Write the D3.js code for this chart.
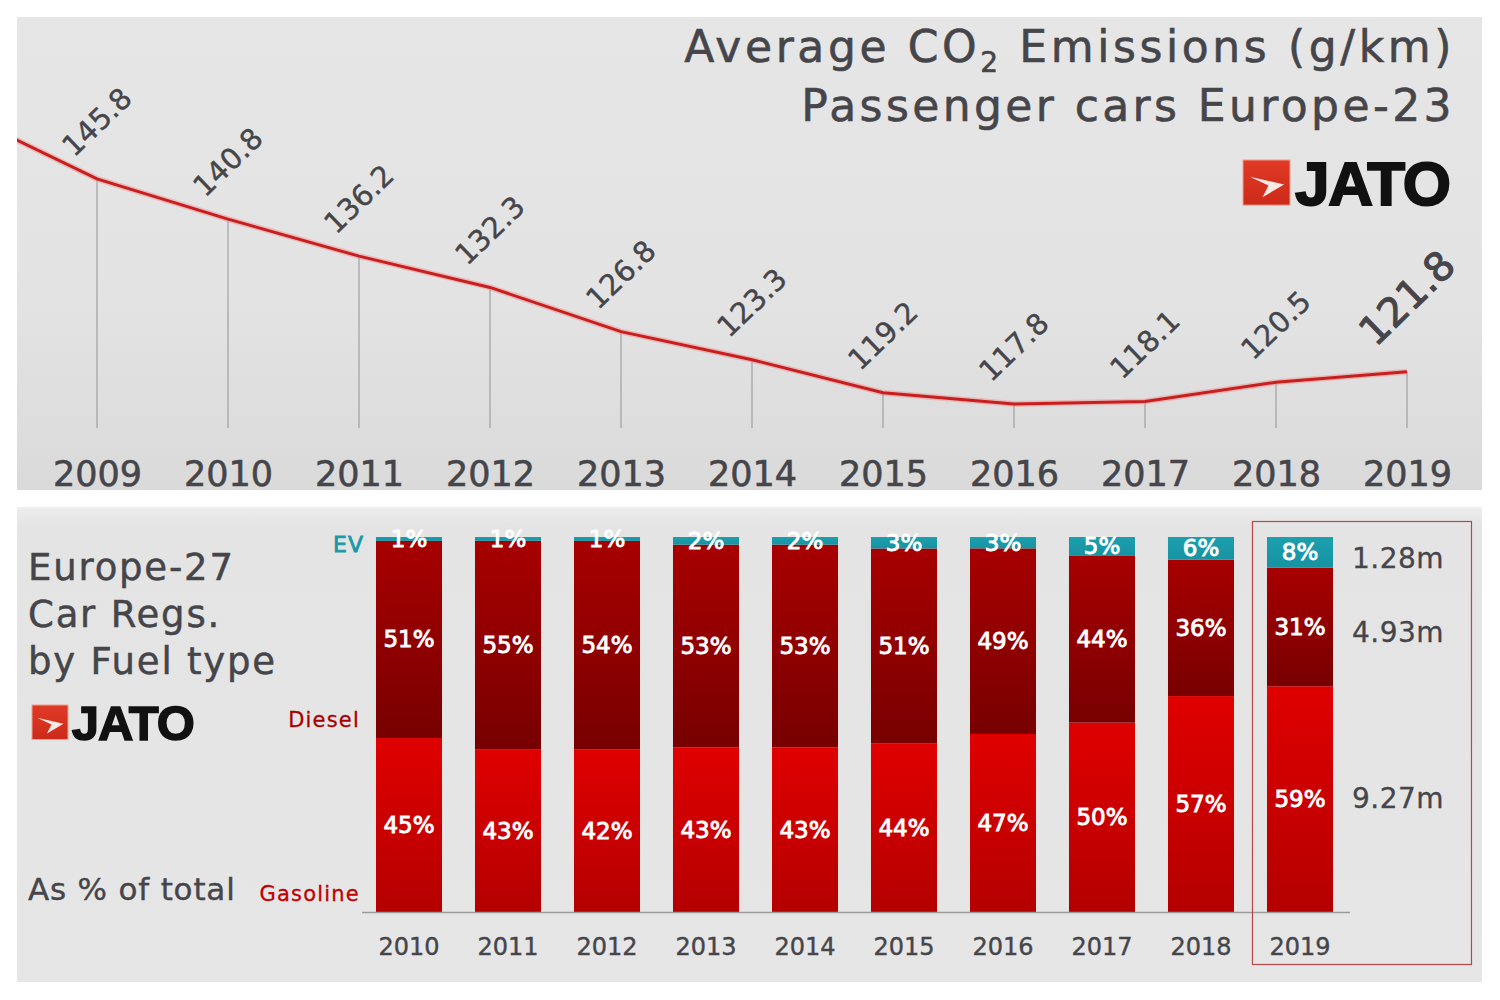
<!DOCTYPE html>
<html>
<head>
<meta charset="utf-8">
<script src="https://cdn.jsdelivr.net/npm/d3@7"></script>
<style>
  html, body { margin: 0; padding: 0; background: #ffffff; }
  svg { display: block; font-family: "DejaVu Sans", sans-serif; }
</style>
</head>
<body>
<svg id="chart" width="1500" height="1000"></svg>
<script>
// ---------- DATA ----------
const co2Years = [2009, 2010, 2011, 2012, 2013, 2014, 2015, 2016, 2017, 2018, 2019];
const co2Values = [145.8, 140.8, 136.2, 132.3, 126.8, 123.3, 119.2, 117.8, 118.1, 120.5, 121.8];
const co2LeadYear = 2008;      // line runs in from the left edge
const co2LeadValue = 153.7;

const regYears = [2010, 2011, 2012, 2013, 2014, 2015, 2016, 2017, 2018, 2019];
const gasolineShare = [45, 43, 42, 43, 43, 44, 47, 50, 57, 59];
const dieselShare   = [51, 55, 54, 53, 53, 51, 49, 44, 36, 31];
const evShare       = [1, 1, 1, 2, 2, 3, 3, 5, 6, 8];
const fuelKeys = ["gasoline", "diesel", "ev"];
const fuelLabels = ["Gasoline", "Diesel", "EV"];
const volumes2019 = ["9.27m", "4.93m", "1.28m"];

const titleLines = ["Average CO", "Passenger cars Europe-23"];
const bottomTitle = ["Europe-27", "Car Regs.", "by Fuel type"];

// ---------- SETUP ----------
const svg = d3.select("#chart");
const defs = svg.append("defs");
const TXT = "#45454a";

function linGrad(id, stops, vertical = true) {
  const g = defs.append("linearGradient").attr("id", id)
    .attr("x1", 0).attr("y1", 0).attr("x2", vertical ? 0 : 1).attr("y2", vertical ? 1 : 0);
  stops.forEach(s => g.append("stop").attr("offset", s[0]).attr("stop-color", s[1]));
}
linGrad("bgTop", [[0, "#e6e6e6"], [0.6, "#e3e3e3"], [1, "#dadada"]]);
linGrad("bgBot", [[0, "#eeeeee"], [0.04, "#e4e4e4"], [1, "#e6e6e6"]]);
linGrad("gGas", [[0, "#e00000"], [1, "#b40000"]]);
linGrad("gDie", [[0, "#a80000"], [1, "#780000"]]);
linGrad("gEv", [[0, "#1c9fae"], [1, "#1793a3"]]);
linGrad("gLogo", [[0, "#e03a26"], [1, "#cc2a1a"]]);

// panels
svg.append("rect").attr("x", 17).attr("y", 17).attr("width", 1465).attr("height", 473).attr("fill", "url(#bgTop)");
svg.append("rect").attr("x", 17).attr("y", 507).attr("width", 1465).attr("height", 475).attr("fill", "url(#bgBot)");

defs.append("clipPath").attr("id", "clipTop")
  .append("rect").attr("x", 17).attr("y", 17).attr("width", 1465).attr("height", 473);

// ---------- TOP CHART ----------
const x1 = d3.scaleLinear().domain([2009, 2019]).range([97, 1407]);
const y1 = d3.scaleLinear().domain([100, 150]).range([547, 145.2]);
const baseY = 428;

const topG = svg.append("g");
const pts = co2Years.map((yr, i) => ({ year: yr, value: co2Values[i] }));
const linePts = [{ year: co2LeadYear, value: co2LeadValue }, ...pts];

// drop lines
topG.selectAll("line.drop").data(pts).join("line")
  .attr("x1", d => x1(d.year)).attr("x2", d => x1(d.year))
  .attr("y1", d => y1(d.value)).attr("y2", baseY)
  .attr("stroke", "#a0a0a0").attr("stroke-width", 1.2);

const line = d3.line().x(d => x1(d.year)).y(d => y1(d.value));
const lg = topG.append("g").attr("clip-path", "url(#clipTop)");
lg.append("path").datum(linePts).attr("d", line)
  .attr("fill", "none").attr("stroke", "#f08a8a").attr("stroke-width", 6).attr("opacity", 0.45);
lg.append("path").datum(linePts).attr("d", line)
  .attr("fill", "none").attr("stroke", "#c81e1e").attr("stroke-width", 3);

// value labels (rotated)
topG.selectAll("text.val").data(pts).join("text")
  .attr("transform", (d, i) => {
    const lastOne = i === pts.length - 1;
    return `translate(${x1(d.year)},${y1(d.value) - (lastOne ? 74 : 57)}) rotate(-44)`;
  })
  .attr("text-anchor", "middle").attr("dominant-baseline", "central")
  .attr("font-size", (d, i) => i === pts.length - 1 ? 40 : 29)
  .attr("fill", TXT).attr("stroke", TXT).attr("stroke-width", (d, i) => i === pts.length - 1 ? 1 : 0.4)
  .text(d => d3.format(".1f")(d.value));

// year axis
const axTop = topG.append("g").attr("transform", `translate(0,${486})`)
  .call(d3.axisBottom(x1).tickValues(co2Years).tickFormat(d3.format("d")).tickSize(0).tickPadding(0));
axTop.select(".domain").remove();
axTop.selectAll("text").attr("font-size", 35).attr("fill", TXT).attr("stroke", TXT).attr("stroke-width", 0.6)
  .attr("font-family", "DejaVu Sans").attr("dy", 0).attr("y", 0);

// title
const tg = svg.append("g");
const t1 = tg.append("text").attr("x", 1455).attr("y", 62).attr("text-anchor", "end")
  .attr("font-size", 44).attr("letter-spacing", 3.6).attr("fill", TXT).attr("stroke", TXT).attr("stroke-width", 0.6);
t1.append("tspan").text(titleLines[0]);
t1.append("tspan").attr("font-size", 28).attr("dy", 10).text("2");
t1.append("tspan").attr("dy", -10).text(" Emissions (g/km)");
tg.append("text").attr("x", 1455).attr("y", 121).attr("text-anchor", "end")
  .attr("font-size", 44).attr("letter-spacing", 3.4).attr("fill", TXT).attr("stroke", TXT).attr("stroke-width", 0.6)
  .text(titleLines[1]);

// logo
function logo(g, x, y, s, fs, ls) {
  g.append("rect").attr("x", x).attr("y", y).attr("width", s).attr("height", s * 0.96)
    .attr("fill", "url(#gLogo)").attr("stroke", "#f0a090").attr("stroke-width", 1);
  const k = s / 48;
  g.append("path")
    .attr("d", `M${x + 7 * k},${y + 17 * k} L${x + 42 * k},${y + 25 * k} L${x + 20 * k},${y + 38 * k} L${x + 26 * k},${y + 26 * k} Z`)
    .attr("fill", "#fbe9e6");
  g.append("text").attr("x", x + s + 5 * k).attr("y", y + s * 0.96)
    .attr("font-family", "Liberation Sans, Arial, sans-serif").attr("font-weight", 700)
    .attr("font-size", fs).attr("letter-spacing", ls)
    .attr("fill", "#111").attr("stroke", "#111").attr("stroke-width", 2 * k)
    .text("JATO");
}
logo(svg.append("g"), 1243, 160, 47, 62, -1.2);
logo(svg.append("g"), 32, 705, 36, 49, -1);

// ---------- BOTTOM CHART ----------
const x2 = d3.scaleBand().domain(regYears).range([359.5, 1349.5]).paddingInner(0.333).paddingOuter(0.1665);
const y2 = d3.scaleLinear().domain([0, 1]).range([912, 537]);

const rows = regYears.map((yr, i) => ({ year: yr, gasoline: gasolineShare[i], diesel: dieselShare[i], ev: evShare[i] }));
const stack = d3.stack().keys(fuelKeys).offset(d3.stackOffsetExpand);
const series = stack(rows);
const fills = { gasoline: "url(#gGas)", diesel: "url(#gDie)", ev: "url(#gEv)" };

const bars = svg.append("g");
series.forEach(s => {
  const g = bars.append("g");
  g.selectAll("rect").data(s).join("rect")
    .attr("x", d => x2(d.data.year)).attr("width", x2.bandwidth())
    .attr("y", d => y2(d[1])).attr("height", d => y2(d[0]) - y2(d[1]))
    .attr("fill", fills[s.key]);
});
series.forEach(s => {
  bars.append("g").selectAll("text").data(s).join("text")
    .attr("x", d => x2(d.data.year) + x2.bandwidth() / 2)
    .attr("y", d => (y2(d[0]) + y2(d[1])) / 2)
    .attr("text-anchor", "middle").attr("dominant-baseline", "central")
    .attr("font-size", 23).attr("fill", "#ffffff").attr("stroke", "#ffffff").attr("stroke-width", 0.9)
    .text(d => d.data[s.key] + "%");
});

// baseline
svg.append("line").attr("x1", 362).attr("x2", 1350).attr("y1", 912.5).attr("y2", 912.5)
  .attr("stroke", "#9a9a9a").attr("stroke-width", 1.3);

// year axis
const axBot = svg.append("g").attr("transform", `translate(0,955)`)
  .call(d3.axisBottom(x2).tickSize(0).tickPadding(0));
axBot.select(".domain").remove();
axBot.selectAll("text").attr("font-size", 24).attr("fill", TXT).attr("stroke", TXT).attr("stroke-width", 0.4)
  .attr("font-family", "DejaVu Sans").attr("dy", 0).attr("y", 0);

// series labels on the left
const labelColors = { gasoline: "#c00000", diesel: "#a80000", ev: "#1a98a8" };
const labelPos = { gasoline: 901, diesel: 727, ev: 552 };
fuelKeys.forEach((k, i) => {
  svg.append("text").attr("x", k === "ev" ? 364 : 360).attr("y", labelPos[k])
    .attr("text-anchor", "end").attr("font-size", k === "ev" ? 22 : 21)
    .attr("letter-spacing", k === "ev" ? 1 : 1.2)
    .attr("fill", labelColors[k]).attr("stroke", labelColors[k]).attr("stroke-width", k === "ev" ? 0.8 : 0.3)
    .text(fuelLabels[i]);
});

// 2019 volumes
const lastYear = regYears[regYears.length - 1];
series.forEach((s, i) => {
  const d = s[s.length - 1];
  const shift = s.key === "gasoline" ? -1 : 6;
  svg.append("text").attr("x", 1352).attr("y", (y2(d[0]) + y2(d[1])) / 2 + shift)
    .attr("dominant-baseline", "central").attr("font-size", 28).attr("letter-spacing", 0.5)
    .attr("fill", TXT).attr("stroke", TXT).attr("stroke-width", 0.3)
    .text(volumes2019[i]);
});

// highlight box around 2019
svg.append("rect").attr("x", x2(lastYear) - 14.5).attr("y", 521.5)
  .attr("width", 219).attr("height", 443)
  .attr("fill", "none").attr("stroke", "#b84848").attr("stroke-width", 1.2);

// left titles
bottomTitle.forEach((t, i) => {
  svg.append("text").attr("x", 28).attr("y", 580 + i * 47).attr("font-size", 37).attr("letter-spacing", 1.8)
    .attr("fill", TXT).attr("stroke", TXT).attr("stroke-width", 0.5).text(t);
});
svg.append("text").attr("x", 28).attr("y", 900).attr("font-size", 31).attr("letter-spacing", 0.8)
  .attr("fill", TXT).attr("stroke", TXT).attr("stroke-width", 0.4).text("As % of total");
</script>
</body>
</html>
